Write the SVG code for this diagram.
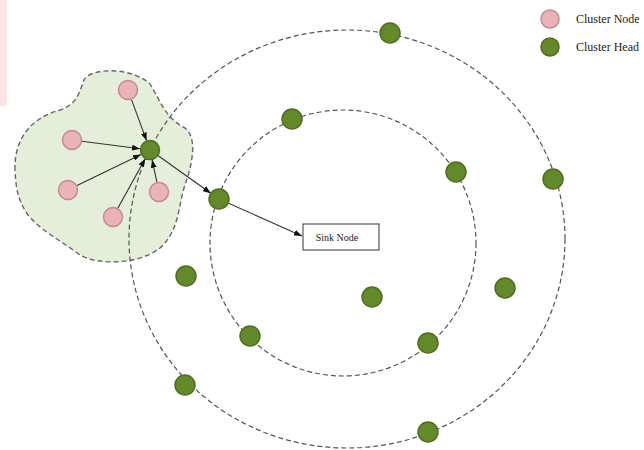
<svg xmlns="http://www.w3.org/2000/svg" width="644" height="450" viewBox="0 0 644 450">
<defs>
<style>
.ring{fill:none;stroke:#555;stroke-width:1.2;stroke-dasharray:5 3}
.ch{fill:#638a2a;stroke:#4f6e1e;stroke-width:1.5}
.cn{fill:#eab3b8;stroke:#c48a90;stroke-width:1.5}
.edge{stroke:#333;stroke-width:1.1;fill:none;marker-end:url(#ah)}
.t{font-family:"Liberation Serif","Times New Roman",serif;fill:#222}
</style>
<marker id="ah" markerUnits="userSpaceOnUse" markerWidth="8" markerHeight="6" refX="8" refY="3" orient="auto"><path d="M0,0 L8,3 L0,6 z" fill="#111"/></marker>
</defs>
<rect width="644" height="450" fill="#fff"/>
<rect x="0" y="0" width="7" height="106" fill="#fbe3e6"/>
<g id="cluster">
<path d="M15,170 C14,140 30,118 60,110 C78,104 80,90 84,80 C90,68 130,66 150,84 C160,100 165,118 185,128 C198,138 192,165 185,185 C178,205 180,230 160,248 C140,264 100,266 80,255 C60,240 40,230 28,215 C18,200 16,190 15,170 Z" fill="#e4eed8" stroke="#666" stroke-width="1.4" stroke-dasharray="5 3"/>
</g>
<g id="rings">
<ellipse class="ring" cx="347" cy="239" rx="218" ry="209"/>
<ellipse class="ring" cx="343" cy="243" rx="133" ry="133"/>
</g>
<g id="connectors">
<line class="edge" x1="131.4" y1="99.4" x2="146.6" y2="140.6"/>
<line class="edge" x1="81.9" y1="141.3" x2="140.1" y2="148.7"/>
<line class="edge" x1="77" y1="185.6" x2="141" y2="154.4"/>
<line class="edge" x1="117.8" y1="208.2" x2="145.2" y2="158.8"/>
<line class="edge" x1="156.9" y1="182.2" x2="152.1" y2="159.8"/>
<line class="edge" x1="158.2" y1="155.8" x2="210.8" y2="193.2"/>
<line class="edge" x1="228" y1="203" x2="302" y2="236"/>
</g>
<g id="cluster-nodes">
<circle class="cn" cx="128" cy="90" r="9.5"/>
<circle class="cn" cx="72" cy="140" r="9.5"/>
<circle class="cn" cx="68" cy="190" r="9.5"/>
<circle class="cn" cx="113" cy="217" r="9.5"/>
<circle class="cn" cx="159" cy="192" r="9.5"/>
</g>
<g id="head-0"><circle class="ch" cx="150" cy="150" r="9.5"/></g>
<g id="cluster-heads">
<circle class="ch" cx="390" cy="33" r="10"/>
<circle class="ch" cx="292" cy="119" r="10"/>
<circle class="ch" cx="456" cy="172" r="10"/>
<circle class="ch" cx="553" cy="179" r="10"/>
<circle class="ch" cx="219" cy="199" r="10"/>
<circle class="ch" cx="186" cy="276" r="10"/>
<circle class="ch" cx="372" cy="297" r="10"/>
<circle class="ch" cx="505" cy="288" r="10"/>
<circle class="ch" cx="250" cy="336" r="10"/>
<circle class="ch" cx="428" cy="343" r="10"/>
<circle class="ch" cx="185" cy="385" r="10"/>
<circle class="ch" cx="428" cy="432" r="10"/>
</g>
<g id="sink">
<rect x="303" y="224" width="76" height="26" fill="#fff" stroke="#333" stroke-width="1"/>
<text class="t" x="337" y="241" font-size="10" text-anchor="middle">Sink Node</text>
</g>
<g id="legend">
<circle class="cn" cx="550" cy="19" r="9"/>
<text class="t" x="576" y="23" font-size="12">Cluster Node</text>
<circle class="ch" cx="550" cy="47" r="9"/>
<text class="t" x="576" y="51" font-size="12">Cluster Head</text>
</g>
</svg>
